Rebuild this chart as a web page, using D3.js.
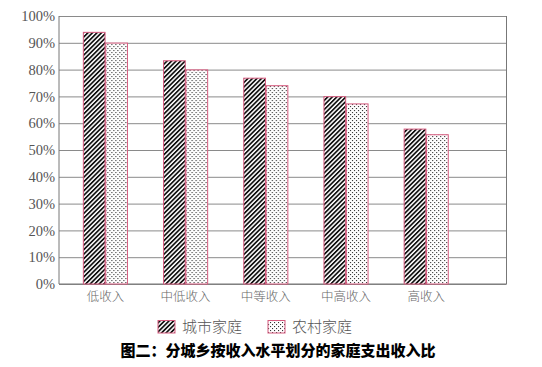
<!DOCTYPE html>
<html><head><meta charset="utf-8">
<script src="https://cdn.jsdelivr.net/npm/d3@7"></script>
<style>body{margin:0;background:#fff}svg{display:block}</style>
</head><body>
<script>
const categories = ["低收入","中低收入","中等收入","中高收入","高收入"];
const seriesNames = ["城市家庭","农村家庭"];
const urban = [93.9, 83.3, 76.8, 69.9, 57.8];
const rural = [89.9, 79.9, 74.0, 67.2, 55.7];
const yTicks = [0,10,20,30,40,50,60,70,80,90,100];
const title = "图二：分城乡按收入水平划分的家庭支出收入比";

(function(){
const W = 542, H = 367;
const svg = d3.select("body").append("svg").attr("width", W).attr("height", H);
const defs = svg.append("defs");
const hatch = defs.append("pattern").attr("id","hatch").attr("patternUnits","userSpaceOnUse")
  .attr("width",3.2).attr("height",3.2).attr("patternTransform","rotate(45)");
hatch.append("rect").attr("width",3.2).attr("height",3.2).attr("fill","#fff");
hatch.append("rect").attr("width",1.7).attr("height",3.2).attr("fill","#111");
const dots = defs.append("pattern").attr("id","dots").attr("patternUnits","userSpaceOnUse")
  .attr("width",4).attr("height",4);
dots.append("rect").attr("width",4).attr("height",4).attr("fill","#fff");
dots.append("rect").attr("x",0).attr("y",0).attr("width",1.1).attr("height",1.1).attr("fill","#333");
dots.append("rect").attr("x",2).attr("y",2).attr("width",1.1).attr("height",1.1).attr("fill","#333");
const fills = ["url(#hatch)","url(#dots)"];

const mL = 59, mR = 506.5, mT = 16, mB = 284;
const y = d3.scaleLinear().domain([0,100]).range([mB, mT]);
const x0 = d3.scaleBand().domain(categories).range([65.3, 466.3]).paddingInner(0.45).paddingOuter(0.225);
const x1 = d3.scaleBand().domain(seriesNames).range([0, x0.bandwidth()]).paddingInner(0.03);

const grid = svg.append("g").attr("transform",`translate(${mL},0)`)
  .call(d3.axisLeft(y).tickValues(yTicks).tickSize(-(mR-mL)).tickFormat(d => d + "%"));
grid.select(".domain").remove();
grid.selectAll(".tick line").attr("stroke","#8a8a8a").attr("stroke-width",1);
grid.selectAll(".tick text").attr("x",-4).attr("fill","#555")
  .style("font-family","'Liberation Serif','DejaVu Serif',serif").style("font-size","14.5px");
svg.append("line").attr("x1",mL).attr("x2",mL).attr("y1",mT).attr("y2",mB).attr("stroke","#777");
svg.append("line").attr("x1",mR).attr("x2",mR).attr("y1",mT).attr("y2",mB).attr("stroke","#777");
svg.append("line").attr("x1",mL).attr("x2",mR).attr("y1",mB).attr("y2",mB).attr("stroke","#777");

const data = categories.map((c,i) => ({cat:c, vals:[urban[i], rural[i]]}));
const g = svg.append("g").selectAll("g").data(data).join("g")
  .attr("transform", d => `translate(${x0(d.cat)},0)`);
g.selectAll("rect").data(d => d.vals.map((v,j)=>({v, s:seriesNames[j], j}))).join("rect")
  .attr("x", d => x1(d.s)).attr("width", x1.bandwidth())
  .attr("y", d => y(d.v)).attr("height", d => y(0) - y(d.v))
  .attr("fill", d => fills[d.j]).attr("stroke","#d65a7e").attr("stroke-width",1);

const xa = svg.append("g").attr("transform",`translate(0,${mB})`)
  .call(d3.axisBottom(x0).tickSize(0).tickPadding(8));
xa.select(".domain").remove();
xa.selectAll(".tick text").attr("fill","#666")
  .style("font-family","'Noto Sans CJK SC',sans-serif").style("font-size","12.5px").style("font-weight","300");

const leg = svg.append("g");
const legX = [158, 268];
seriesNames.forEach((s,j) => {
  leg.append("rect").attr("x",legX[j]).attr("y",320.5).attr("width",17).attr("height",12.5)
    .attr("fill",fills[j]).attr("stroke","#d65a7e");
  leg.append("text").attr("x",legX[j]+24).attr("y",327).attr("dy","0.35em").text(s)
    .attr("fill","#555").style("font-family","'Noto Sans CJK SC',sans-serif")
    .style("font-size","15px").style("font-weight","300");
});

svg.append("text").attr("x",278).attr("y",351).attr("dy","0.35em").attr("text-anchor","middle")
  .text(title).attr("fill","#000").style("font-family","'Noto Sans CJK SC',sans-serif")
  .style("font-size","15px").style("font-weight","900");
})();
</script>
</body></html>
